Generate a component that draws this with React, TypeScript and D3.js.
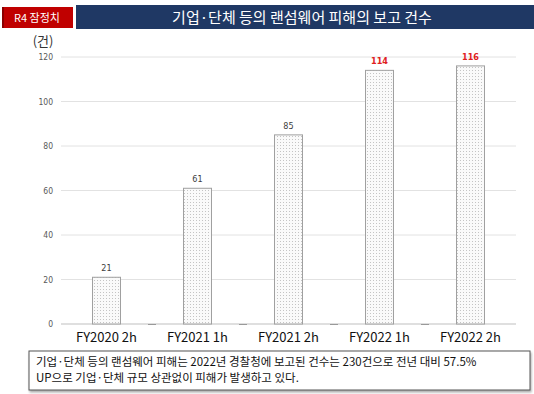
import React from "react";
import * as d3 from "d3";

const categories = ["FY2020 2h", "FY2021 1h", "FY2021 2h", "FY2022 1h", "FY2022 2h"];
const values = [21, 61, 85, 114, 116];
const highlight = [false, false, false, true, true];
const yTicks = [0, 20, 40, 60, 80, 100, 120];
const title = "기업·단체 등의 랜섬웨어 피해의 보고 건수";
const badge = "R4 잠정치";
const unitLabel = "(건)";
const noteLines = [
  "기업·단체 등의 랜섬웨어 피해는 2022년 경찰청에 보고된 건수는 230건으로 전년 대비 57.5%",
  "UP으로 기업·단체 규모 상관없이 피해가 발생하고 있다.",
];

export default function App() {
  const W = 534, H = 394;
  const x = d3.scaleBand<string>().domain(categories).range([61, 516]).paddingInner(0).paddingOuter(0);
  const y = d3.scaleLinear().domain([0, 120]).range([324, 57]);
  const bw = 28;
  const font = "'Noto Sans CJK KR', 'Noto Sans', sans-serif";
  return (
    <svg width={W} height={H} style={{ position: "absolute", left: 0, top: 0, background: "#fff" }}>
      <defs>
        <pattern id="dots" width="3" height="3" patternUnits="userSpaceOnUse">
          <rect width="3" height="3" fill="#fafafa" />
          <rect x="1" y="1" width="1" height="1" fill="#c4c4c4" />
        </pattern>
        <filter id="sh" x="-5%" y="-5%" width="110%" height="130%">
          <feDropShadow dx="1" dy="2" stdDeviation="0.8" floodColor="#888" floodOpacity="0.7" />
        </filter>
      </defs>
      {/* header */}
      <rect x={76} y={5} width={458} height={24} fill="#1f3864" />
      <rect x={2} y={7} width={71} height={21} fill="#c00000" />
      <rect x={2} y={7} width={2} height={21} fill="#8b0000" />
      <text x={37} y={22} fill="#fff" fontSize={11} textAnchor="middle" fontFamily={font}>{badge}</text>
      <text x={302} y={23} fill="#fff" fontSize={15} textAnchor="middle" fontFamily={font}>{title}</text>
      <text x={43} y={46} fill="#333" fontSize={13} textAnchor="middle" fontFamily={font}>{unitLabel}</text>
      {/* grid */}
      {yTicks.map((t) => (
        <g key={t}>
          <line x1={61} x2={516} y1={y(t)} y2={y(t)} stroke={t === 0 ? "#bfbfbf" : "#e2e2e2"} strokeWidth={1} />
          <text x={53} y={y(t) + 3} fontSize={8.5} fill="#595959" textAnchor="end" fontFamily="'Liberation Sans Narrow', 'DejaVu Sans Condensed', sans-serif">{t}</text>
        </g>
      ))}
      {categories.slice(1).map((c) => (
        <line key={c} x1={(x(c) as number) - 4} x2={(x(c) as number) + 4} y1={324.5} y2={324.5} stroke="#999" strokeWidth={1} />
      ))}
      {categories.map((c, i) => {
        const cx = (x(c) as number) + x.bandwidth() / 2;
        return (
          <g key={c}>
            <rect x={cx - bw / 2} y={y(values[i])} width={bw} height={324 - y(values[i])} fill="url(#dots)" stroke="#a0a0a0" strokeWidth={1} />
            <text x={cx} y={y(values[i]) - 6} fontSize={9} textAnchor="middle" fill={highlight[i] ? "#e02020" : "#404040"} fontWeight={highlight[i] ? "bold" : "normal"} fontFamily="'Liberation Sans Narrow', 'DejaVu Sans Condensed', sans-serif">{values[i]}</text>
            <text x={cx} y={342} fontSize={13} textAnchor="middle" fill="#111" fontFamily={font}>{c}</text>
          </g>
        );
      })}
      {/* note box */}
      <rect x={29} y={351} width={501} height={39} fill="#fff" stroke="#555" strokeWidth={1} filter="url(#sh)" />
      {noteLines.map((l, i) => (
        <text key={i} x={36} y={366 + i * 16} fontSize={11.5} fill="#111" fontFamily={font}>{l}</text>
      ))}
    </svg>
  );
}
